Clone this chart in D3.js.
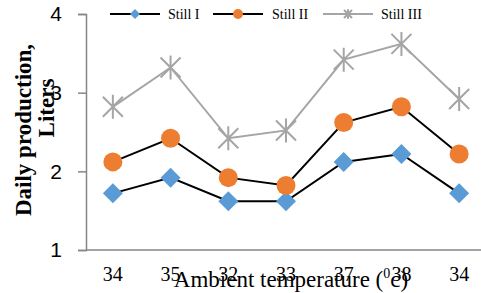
<!DOCTYPE html>
<html><head><meta charset="utf-8">
<script src="https://cdn.jsdelivr.net/npm/d3@7"></script>
<style>body{margin:0;background:#fff}svg{display:block}</style>
</head><body>
<script>
const categories = ["34","35","32","33","37","38","34"];
const still1 = [1.72, 1.92, 1.62, 1.62, 2.12, 2.22, 1.72];
const still2 = [2.12, 2.42, 1.92, 1.82, 2.62, 2.82, 2.22];
const still3 = [2.82, 3.32, 2.42, 2.52, 3.42, 3.62, 2.92];
const seriesNames = ["Still I", "Still II", "Still III"];
const yTicks = [1, 2, 3, 4];

const W = 481, H = 293;
const svg = d3.select("body").append("svg").attr("width", W).attr("height", H);
const x = d3.scaleBand().domain(d3.range(categories.length)).range([84, 488]);
const y = d3.scaleLinear().domain([1, 4]).range([250, 14]);
const axisColor = "#868686";

// y axis
const ya = svg.append("g").attr("transform", "translate(86,0)")
  .call(d3.axisLeft(y).tickValues(yTicks).tickSize(8).tickFormat(d3.format("d")));
ya.select(".domain").attr("stroke", axisColor).attr("stroke-width", 1.5);
ya.selectAll(".tick line").attr("stroke", axisColor).attr("stroke-width", 1.5);
ya.selectAll(".tick text").attr("font-family", "Liberation Sans, Arial, sans-serif")
  .attr("font-size", 21).attr("fill", "#000").attr("x", -24);

// x axis
svg.append("line").attr("x1", 86).attr("x2", 481).attr("y1", y(1)).attr("y2", y(1))
  .attr("stroke", axisColor).attr("stroke-width", 1.5);
svg.append("g").selectAll("text").data(categories).join("text")
  .attr("x", (d, i) => x(i) + x.bandwidth() / 2).attr("y", 281)
  .attr("text-anchor", "middle").attr("font-family", "Liberation Serif, serif")
  .attr("font-size", 20).text(d => d);

// axis titles
svg.append("text").attr("font-family", "Liberation Serif, serif")
  .attr("font-weight", "bold").attr("font-size", 23).attr("text-anchor", "middle")
  .attr("transform", "translate(31,130) rotate(-90)").text("Daily production,");
svg.append("text").attr("font-family", "Liberation Serif, serif")
  .attr("font-weight", "bold").attr("font-size", 23).attr("text-anchor", "middle")
  .attr("transform", "translate(54,108) rotate(-90)").text("Liters");

const xt = svg.append("text").attr("x", 291).attr("y", 287).attr("text-anchor", "middle")
  .attr("font-family", "Liberation Serif, serif").attr("font-size", 23);
xt.append("tspan").text("Ambient temperature (");
xt.append("tspan").attr("font-size", 14).attr("dy", -9).text("0");
xt.append("tspan").attr("dy", 9).text("c)");

const line = d3.line().x((d, i) => x(i) + x.bandwidth() / 2).y(d => y(d));
const series = [
  {name: seriesNames[0], data: still1, stroke: "#000", type: "diamond", fill: "#5b9bd5"},
  {name: seriesNames[1], data: still2, stroke: "#000", type: "circle", fill: "#ed7d31"},
  {name: seriesNames[2], data: still3, stroke: "#a5a5a5", type: "star", fill: "#a5a5a5"}
];

function marker(g, type, fill, s) {
  if (type === "diamond") {
    g.append("path").attr("d", `M0,${-s}L${s},0L0,${s}L${-s},0Z`).attr("fill", fill);
  } else if (type === "circle") {
    g.append("circle").attr("r", s).attr("fill", fill);
  } else {
    g.append("path").attr("d", `M${-s},${-s}L${s},${s}M${-s},${s}L${s},${-s}M0,${-s*1.2}L0,${s*1.2}`)
      .attr("stroke", fill).attr("stroke-width", 2).attr("fill", "none");
  }
}

series.forEach(s => {
  svg.append("path").datum(s.data).attr("d", line).attr("fill", "none")
    .attr("stroke", s.stroke).attr("stroke-width", 2);
});
series.forEach(s => {
  s.data.forEach((v, i) => {
    const g = svg.append("g").attr("transform", `translate(${x(i) + x.bandwidth() / 2},${y(v)})`);
    marker(g, s.type, s.fill, s.type === "diamond" ? 10 : s.type === "circle" ? 9.5 : 10);
  });
});

// legend
const legPos = [[110, 160, 168], [213, 263, 272], [323, 373, 381]];
series.forEach((s, i) => {
  const [x1, x2, tx] = legPos[i];
  const ly = 14;
  svg.append("line").attr("x1", x1).attr("x2", x2).attr("y1", ly).attr("y2", ly)
    .attr("stroke", s.stroke).attr("stroke-width", 2);
  const g = svg.append("g").attr("transform", `translate(${(x1 + x2) / 2},${ly})`);
  marker(g, s.type, s.fill, s.type === "star" ? 4 : 5);
  svg.append("text").attr("x", tx).attr("y", ly + 5).attr("font-family", "Liberation Serif, serif")
    .attr("font-size", 14).text(s.name);
});
</script>
</body></html>
